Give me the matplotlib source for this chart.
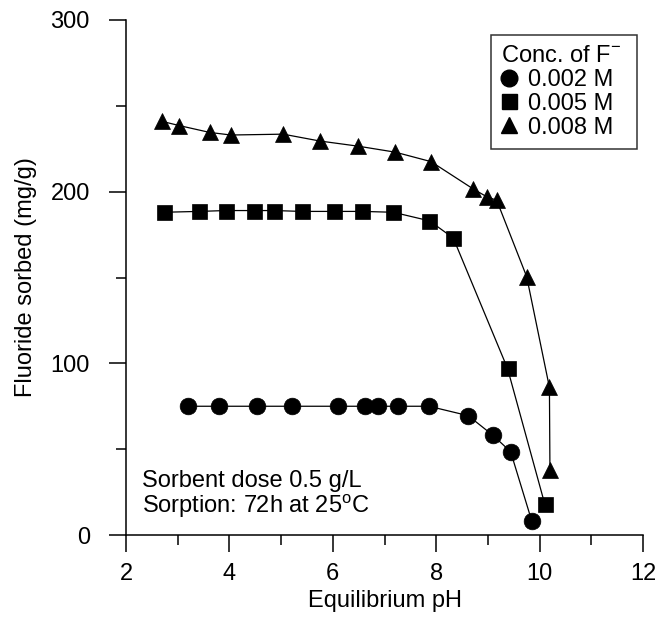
import matplotlib
matplotlib.use("Agg")
import matplotlib.pyplot as plt
from matplotlib.ticker import MultipleLocator
from matplotlib.lines import Line2D

plt.rcParams['font.family'] = ['Liberation Sans', 'DejaVu Sans']
plt.rcParams['mathtext.fontset'] = 'custom'
plt.rcParams['mathtext.rm'] = 'Liberation Sans'
plt.rcParams['mathtext.it'] = 'Liberation Sans:italic'
plt.rcParams['mathtext.bf'] = 'Liberation Sans:bold'

# ---- data ----
ph_002 = [3.20, 3.80, 4.53, 5.21, 6.11, 6.62, 6.88, 7.26, 7.86, 8.62, 9.10, 9.44, 9.85]
q_002 = [75, 75, 75, 75, 75, 75, 75, 75, 75, 69.5, 58, 48.5, 8]

ph_005 = [2.73, 3.41, 3.93, 4.48, 4.87, 5.40, 6.03, 6.57, 7.17, 7.87, 8.33, 9.38, 10.10]
q_005 = [188, 188.5, 189, 189, 189, 188.5, 188.5, 188.5, 188, 183, 173, 97, 18]

ph_008 = [2.69, 3.03, 3.62, 4.03, 5.04, 5.75, 6.49, 7.21, 7.90, 8.72, 8.98, 9.17, 9.75, 10.19, 10.20]
q_008 = [241, 238.5, 234.5, 233, 233.5, 229.5, 226.5, 223, 217.5, 201.5, 197, 195, 150.5, 86, 38]

labels = ['0.002 M', '0.005 M', '0.008 M']
legend_title = 'Conc. of F$^{-}$'
note_lines = ['Sorbent dose 0.5 g/L', 'Sorption: 72h at 25$^{\\mathrm{o}}$C']

FS = 17

fig = plt.figure(figsize=(6.58, 6.17), dpi=100)
ax = fig.add_axes([126/658, (617-535)/617, (643-126)/658, (535-20)/617])

markers = ['o', 's', '^']
msizes = [12, 10.8, 12]
series = [(ph_002, q_002), (ph_005, q_005), (ph_008, q_008)]
for (xs, ys), m, z, lab in zip(series, markers, msizes, labels):
    ax.plot(xs, ys, marker=m, ms=z, label=lab, color='black', lw=0.9,
            markeredgewidth=0.5, markeredgecolor='black', markerfacecolor='black')

ax.set_xlim(2, 12)
ax.set_ylim(0, 300)
ax.xaxis.set_major_locator(MultipleLocator(2))
ax.xaxis.set_minor_locator(MultipleLocator(1))
ax.yaxis.set_major_locator(MultipleLocator(100))
ax.yaxis.set_minor_locator(MultipleLocator(50))

for s in ['top', 'right']:
    ax.spines[s].set_visible(False)
for s in ['left', 'bottom']:
    ax.spines[s].set_linewidth(1.1)

ax.tick_params(axis='both', which='major', direction='out', length=12, width=1.1, labelsize=FS)
ax.tick_params(axis='both', which='minor', direction='out', length=7.5, width=1.1)
ax.tick_params(axis='x', which='major', pad=8)
ax.tick_params(axis='y', which='major', pad=14)

ax.set_xlabel('Equilibrium pH', fontsize=FS)
ax.set_ylabel('Fluoride sorbed (mg/g)', fontsize=FS)
ax.xaxis.set_label_coords(0.5, -0.106)
ax.yaxis.set_label_coords(-0.172, 0.5)

ax.text(2.30, 28, note_lines[0], fontsize=FS, va='baseline', ha='left')
ax.text(2.30, 12.8, note_lines[1], fontsize=FS, va='baseline', ha='left')

hs = [Line2D([], [], linestyle='none', marker=m, ms=z, color='black')
      for m, z in zip(markers, msizes)]
leg = ax.legend(hs, [l + '  ' for l in labels], title=legend_title, loc='upper right',
                bbox_to_anchor=((637-126)/517, (535-35)/515), fontsize=FS,
                title_fontsize=FS, frameon=True, fancybox=False, edgecolor='black',
                handlelength=0.74, handletextpad=0.44, labelspacing=0.08,
                borderpad=0.42, borderaxespad=0, alignment='left')
leg.get_frame().set_linewidth(1.1)

fig.savefig('out.png', dpi=100)
